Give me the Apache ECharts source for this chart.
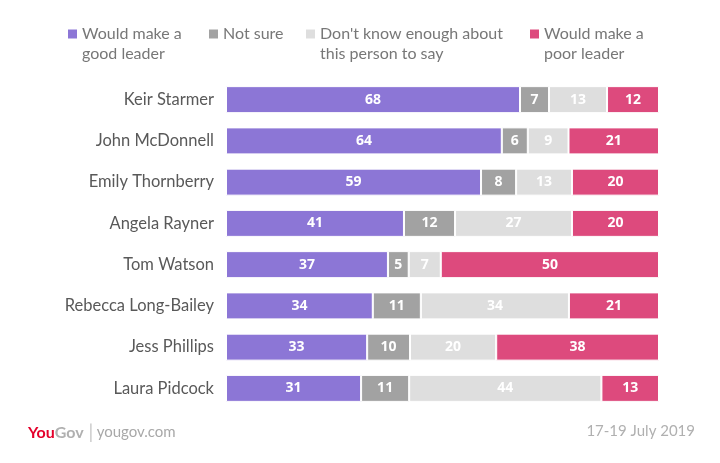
<!DOCTYPE html>
<html>
<head>
<meta charset="utf-8">
<script src="https://cdn.jsdelivr.net/npm/echarts@6/dist/echarts.min.js"></script>
<style>html,body{margin:0;padding:0;background:#fff}#c{width:720px;height:463px}</style>
</head>
<body>
<div id="c"></div>
<script>
var categories = ['Keir Starmer','John McDonnell','Emily Thornberry','Angela Rayner','Tom Watson','Rebecca Long-Bailey','Jess Phillips','Laura Pidcock'];
var seriesNames = ['Would make a good leader','Not sure',"Don't know enough about this person to say",'Would make a poor leader'];
var goodLeader = [67.9, 63.7, 58.9, 41.1, 37.4, 33.9, 32.6, 31.2];
var notSure    = [6.7, 6.0, 8.1, 11.8, 4.8, 11.1, 9.9, 11.1];
var dontKnow   = [13.4, 9.4, 12.9, 27.0, 7.4, 34.2, 19.9, 44.4];
var poorLeader = [12.0, 20.9, 20.1, 20.1, 50.4, 20.8, 37.6, 13.3];
var legendLines = ['\nWould make a\ngood leader', '\nNot sure\n', "\nDon't know enough about\nthis person to say", '\nWould make a\npoor leader'];
var footerSite = 'yougov.com';
var footerDate = '17-19 July 2019';

var colors = ['#8c76d6', '#a2a2a2', '#dedede', '#dd4a7d'];
var values = [goodLeader, notSure, dontKnow, poorLeader];
var legendLeft = [66, 207, 304, 528];

var chart = echarts.init(document.getElementById('c'), null, {renderer: 'canvas'});

var legends = seriesNames.map(function (n, i) {
  return {
    data: [n],
    left: legendLeft[i],
    top: 4,
    padding: 0,
    itemWidth: 11,
    itemHeight: 11,
    icon: 'rect',
    selectedMode: false,
    formatter: function () { return legendLines[i]; },
    textStyle: {fontFamily: 'Lato', fontSize: 16, color: '#777', lineHeight: 20, padding: [0, 0, 0, -1]}
  };
});

var series = seriesNames.map(function (n, i) {
  return {
    name: n,
    type: 'bar',
    stack: 'all',
    barWidth: 27,
    data: values[i].slice(),
    itemStyle: {color: colors[i], borderColor: '#fff', borderWidth: 1},
    label: {
      show: true,
      position: 'inside',
      color: '#fff',
      fontFamily: 'Open Sans',
      fontWeight: 'bold',
      fontSize: 14,
      formatter: function (p) { return Math.round(p.value); }
    },
    emphasis: {disabled: true}
  };
});

chart.setOption({
  animation: false,
  legend: legends,
  grid: {left: 226, right: 61, top: 79, bottom: 54, containLabel: false},
  xAxis: {type: 'value', min: 0, max: 100, show: false},
  yAxis: {
    type: 'category',
    data: categories,
    inverse: true,
    axisLine: {show: false},
    axisTick: {show: false},
    axisLabel: {fontFamily: 'Lato', fontSize: 16.5, color: '#595959', margin: 12}
  },
  series: series,
  graphic: [
    {
      type: 'text',
      left: 28,
      top: 423,
      style: {
        text: '{you|You}{gov|Gov}{sep| |} {site|' + footerSite + '}',
        rich: {
          you: {fontFamily: 'Lato', fontWeight: 'bold', fontSize: 16, fill: '#e4002b'},
          gov: {fontFamily: 'Lato', fontWeight: 'bold', fontSize: 16, fill: '#b0b0b0'},
          sep: {fontFamily: 'Lato', fontSize: 19, fill: '#c8c8c8'},
          site: {fontFamily: 'Lato', fontSize: 15, fill: '#a8a8a8'}
        }
      }
    },
    {
      type: 'text',
      right: 25,
      top: 424,
      style: {text: footerDate, fontFamily: 'Lato', fontSize: 15, fill: '#b0b0b0'}
    }
  ]
});
</script>
</body>
</html>
